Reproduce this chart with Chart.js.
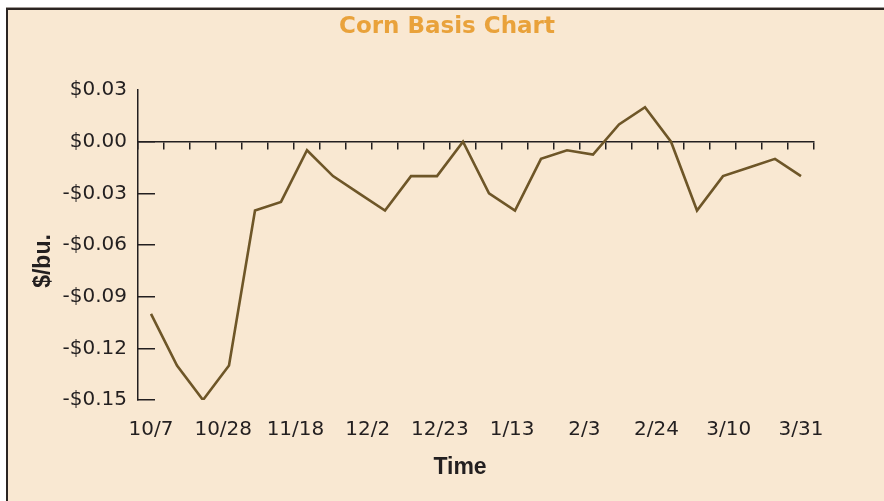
<!DOCTYPE html>
<html>
<head>
<meta charset="utf-8">
<title>Corn Basis Chart</title>
<script src="https://cdn.jsdelivr.net/npm/chart.js@4/dist/chart.umd.min.js"></script>
<style>
  body { margin: 0; background: #fff; }
  #frame {
    position: absolute; left: 6px; top: 8px; right: 0; bottom: 0;
    background: #f9e8d2;
    border-top: 2px solid #2b2522;
    border-left: 2px solid #2b2522;
    box-shadow: 0 -1px 0 #a09a96;
  }
  #wrap { position: absolute; left: 0; top: 0; width: 884px; height: 501px; }
</style>
</head>
<body>
<div id="frame"></div>
<div id="wrap"><canvas id="basisChart" width="884" height="501"></canvas></div>
<script>
// Weekly sample dates (one point per week)
const weeks = [
  '10/7', '10/14', '10/21', '10/28', '11/4', '11/11', '11/18', '11/25', '12/2',
  '12/9', '12/16', '12/23', '12/30', '1/6', '1/13', '1/20', '1/27', '2/3',
  '2/10', '2/17', '2/24', '3/3', '3/10', '3/17', '3/24', '3/31'
];

// Basis in $/bu.
const basis = [
  -0.10, -0.13, -0.15, -0.13, -0.04, -0.035, -0.005, -0.02, -0.03,
  -0.04, -0.02, -0.02, 0.00, -0.03, -0.04, -0.01, -0.005, -0.0075,
  0.01, 0.02, 0.00, -0.04, -0.02, -0.015, -0.01, -0.02
];

// Labels printed under the chart (evenly spaced)
const timeLabels = ['10/7', '10/28', '11/18', '12/2', '12/23', '1/13', '2/3', '2/24', '3/10', '3/31'];

// Y axis ticks
const yMin = -0.15;
const yMax = 0.03;
const yStep = 0.03;

const axisColor = '#231f20';
const tickFont = { family: 'DejaVu Sans', size: 20 };
const titleFont = { family: 'Liberation Sans', size: 23, weight: 'bold' };

// the time labels run from the first week to the last one
const span = (weeks.length - 1) / (timeLabels.length - 1);

function money(v) {
  const c = Math.round(v * 100);
  return (c < 0 ? '-$' : '$') + (Math.abs(c) / 100).toFixed(2);
}

const ctx = document.getElementById('basisChart').getContext('2d');
new Chart(ctx, {
  type: 'line',
  data: {
    labels: weeks,
    datasets: [{
      label: 'Corn basis',
      data: basis,
      xAxisID: 'x',
      yAxisID: 'y',
      borderColor: '#6e5628',
      borderWidth: 2.6,
      pointRadius: 0,
      tension: 0,
      fill: false
    }]
  },
  options: {
    responsive: false,
    animation: false,
    layout: { padding: { left: 10, right: 0, top: 0, bottom: 0 } },
    plugins: {
      legend: { display: false },
      tooltip: { enabled: false },
      title: {
        display: true,
        text: 'Corn Basis Chart',
        color: '#e9a23b',
        font: { family: 'DejaVu Sans', size: 23, weight: 'bold' },
        padding: { top: 13, bottom: 49.4 }
      }
    },
    scales: {
      // week axis sits on the zero line, ticks only
      x: {
        type: 'category',
        position: { y: 0 },
        offset: true,
        grid: {
          offset: true,
          drawOnChartArea: false,
          drawTicks: true,
          tickLength: 7,
          color: axisColor,
          lineWidth: 1.5
        },
        border: { display: true, color: axisColor, width: 1.5 },
        ticks: { display: false, autoSkip: false }
      },
      // label row at the bottom
      x2: {
        type: 'linear',
        position: 'bottom',
        min: -0.5 / span,
        max: (weeks.length - 0.5) / span,
        afterFit: s => { s.height = 101; },
        grid: { display: false },
        border: { display: false },
        ticks: {
          stepSize: 1,
          includeBounds: false,
          maxTicksLimit: 20,
          autoSkip: false,
          maxRotation: 0,
          padding: 10,
          color: axisColor,
          font: tickFont,
          callback: v => timeLabels[v] ?? ''
        },
        title: {
          display: true,
          text: 'Time\u00a0\u00a0\u00a0\u00a0\u00a0',
          color: axisColor,
          font: titleFont,
          padding: { top: 0, bottom: 20 }
        }
      },
      y: {
        type: 'linear',
        min: yMin,
        max: yMax,
        afterFit: s => { s.width = 128; },
        grid: {
          drawOnChartArea: false,
          drawTicks: true,
          tickLength: -17, // ticks point into the plot
          lineWidth: 1.5,
          color: c => (c.tick && Math.abs(c.tick.value - yMax) < 1e-6) ? 'rgba(0,0,0,0)' : axisColor
        },
        border: { display: true, color: axisColor, width: 1.5 },
        ticks: {
          stepSize: yStep,
          maxTicksLimit: 20,
          padding: 28,
          color: axisColor,
          font: tickFont,
          callback: v => money(v)
        },
        title: {
          display: true,
          text: '$/bu.\u00a0\u00a0\u00a0\u00a0\u00a0',
          color: axisColor,
          font: titleFont,
          padding: { top: 20, bottom: 0 }
        }
      },
      // empty right margin so the title centres like the original
      yRight: {
        type: 'linear',
        position: 'right',
        afterFit: s => { s.width = 70; },
        grid: { display: false },
        border: { display: false },
        ticks: { display: false }
      }
    }
  }
});
</script>
</body>
</html>
